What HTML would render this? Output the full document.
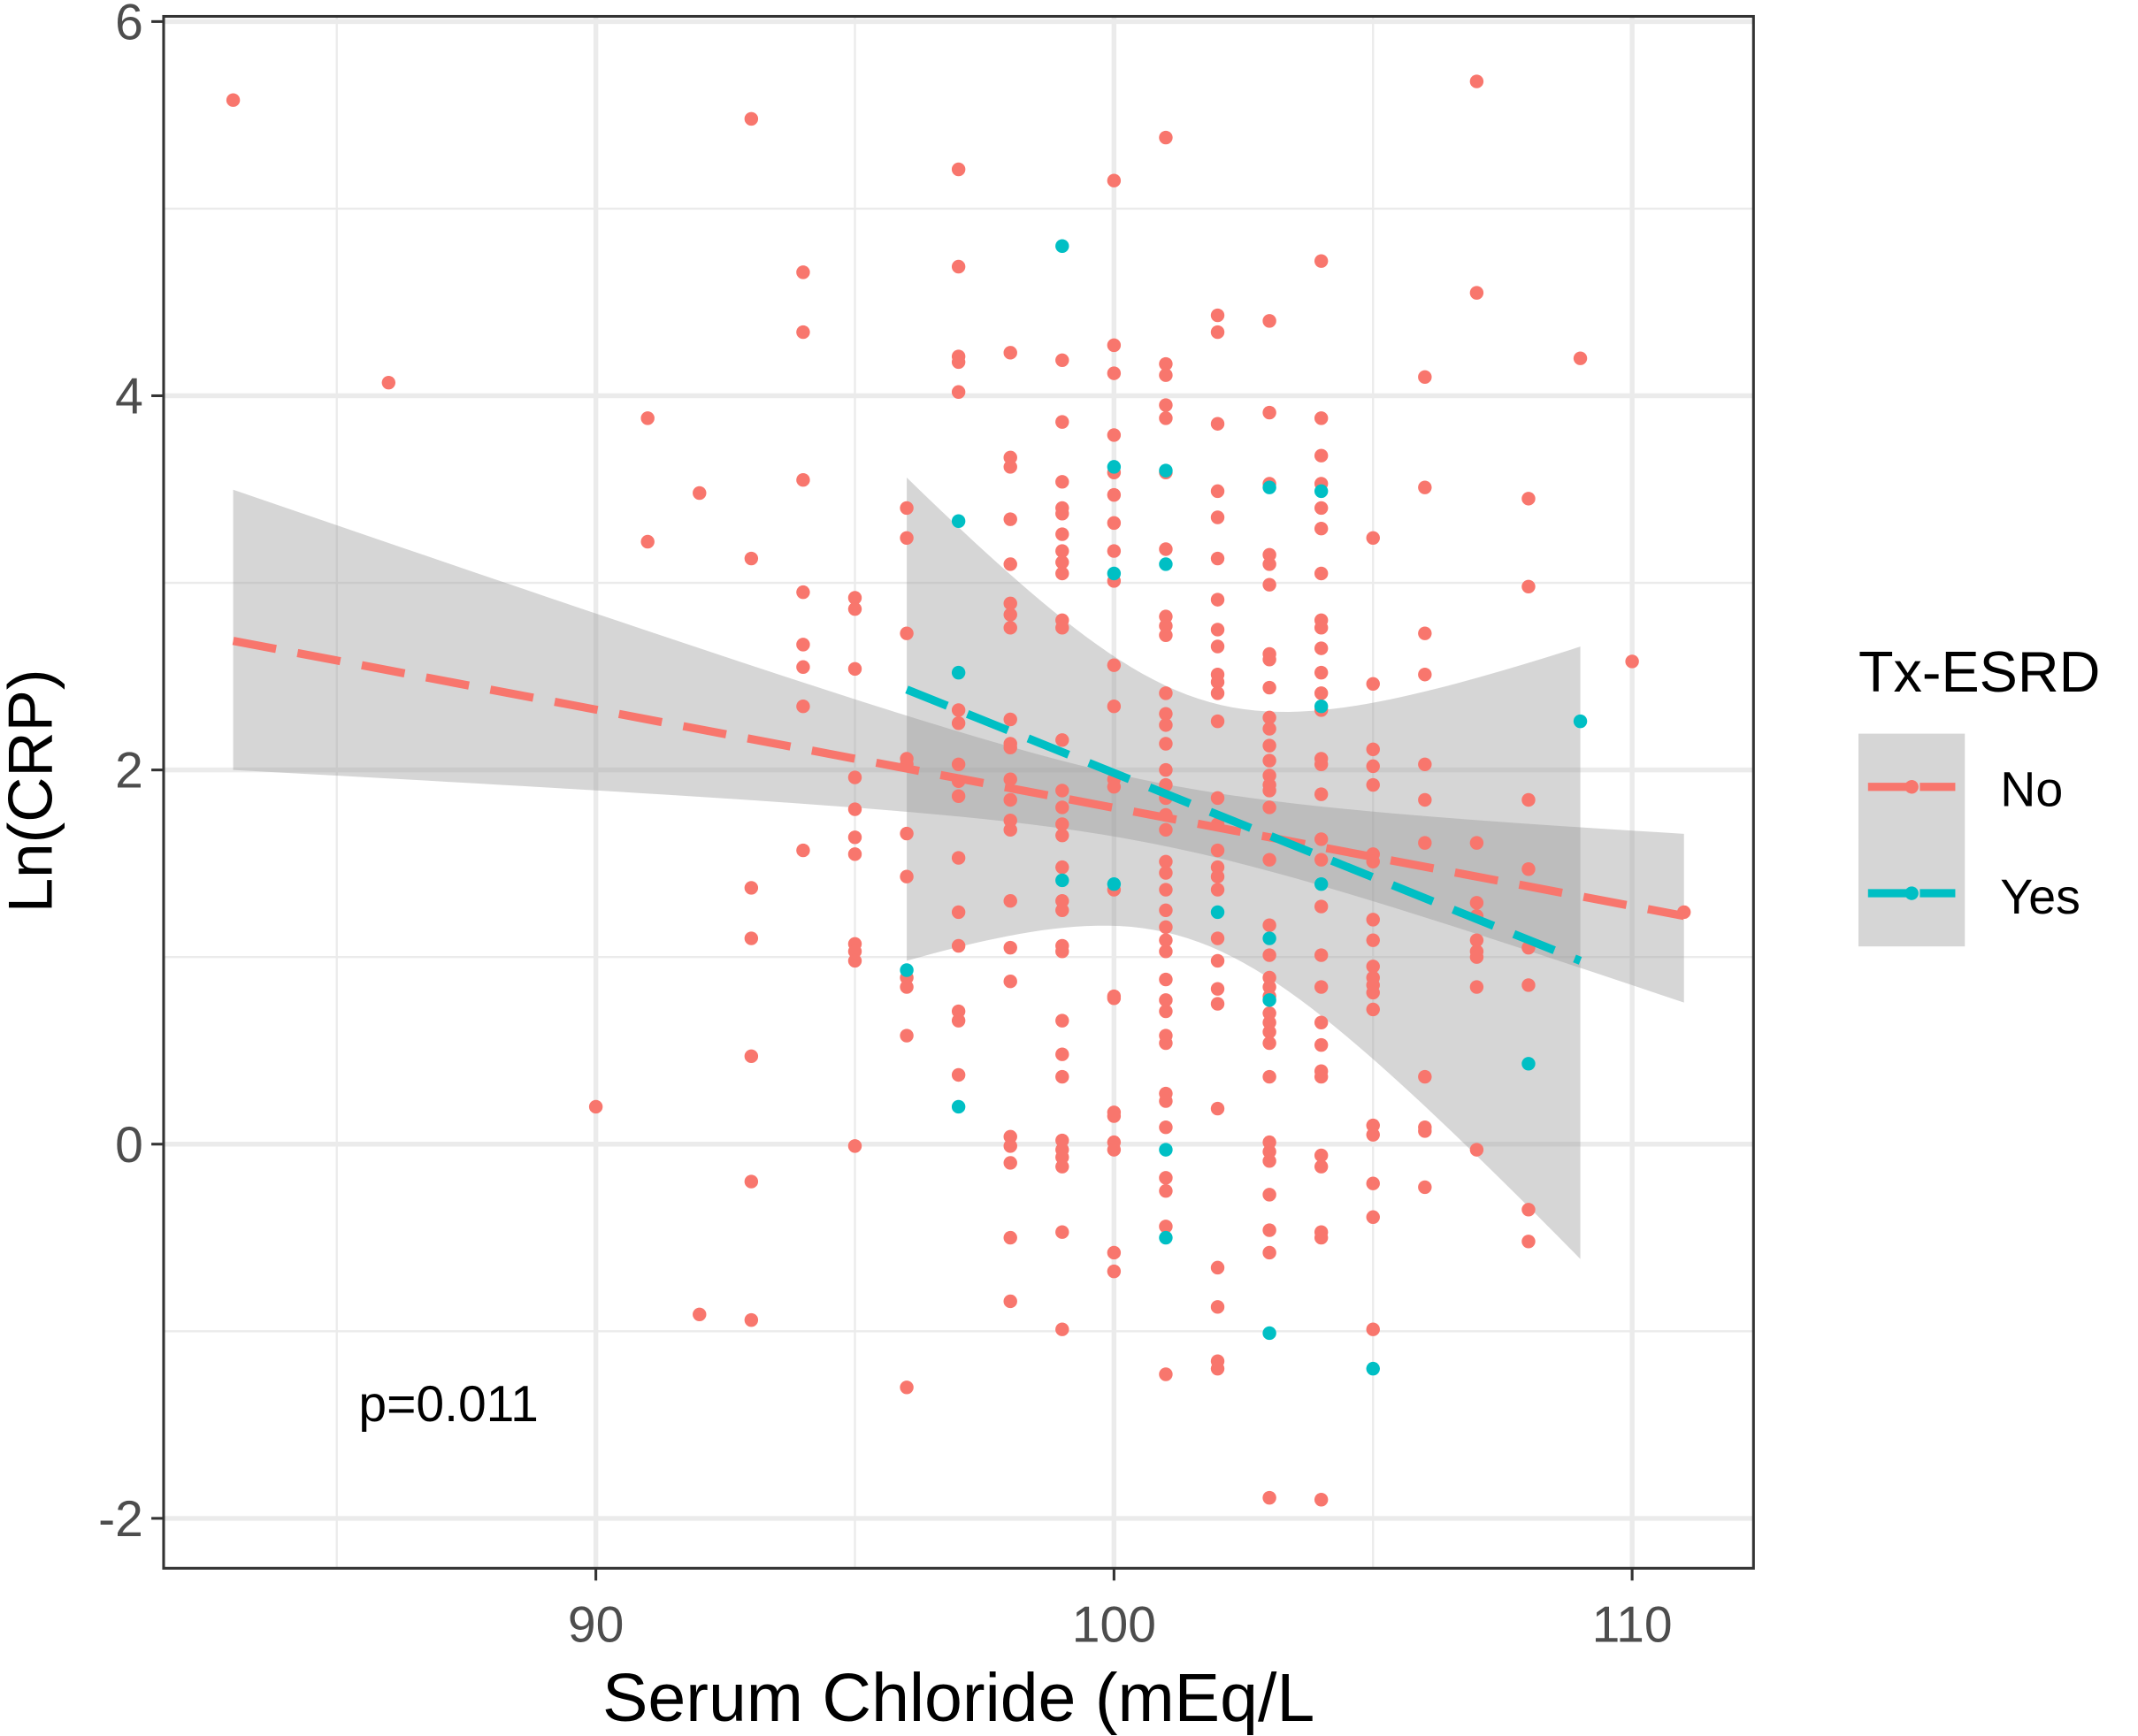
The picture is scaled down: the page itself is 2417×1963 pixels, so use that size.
<!DOCTYPE html>
<html><head><meta charset="utf-8"><style>
html,body{margin:0;padding:0;background:#fff}
svg{display:block}
text{font-family:"Liberation Sans",sans-serif}
</style></head><body>
<svg id="chart" width="2417" height="1963" viewBox="0 0 1568 1273" preserveAspectRatio="none" xmlns="http://www.w3.org/2000/svg">
<rect width="1568" height="1273" fill="#fff"/>
<g id="grid"></g>
<g id="bands"></g>
<g id="points"></g>
<g id="lines"></g>
<rect x="120" y="12" width="1166" height="1138" fill="none" stroke="#333" stroke-width="2"/>
<g id="axes"></g>
<text x="263" y="1042" font-size="37" fill="#000">p=0.011</text>
<text x="703" y="1262" font-size="50" text-anchor="middle" fill="#000">Serum Chloride (mEq/L</text>
<text transform="translate(38,580) rotate(-90)" font-size="46" text-anchor="middle" fill="#000">Ln(CRP)</text>
<g>
<text x="1363" y="507" font-size="42" fill="#000">Tx-ESRD</text>
<rect x="1363" y="538" width="78" height="78" fill="#999" fill-opacity="0.4"/>
<rect x="1363" y="616" width="78" height="78" fill="#999" fill-opacity="0.4"/>
<line x1="1370" y1="577" x2="1434" y2="577" stroke="#F8766D" stroke-width="6" stroke-dasharray="30 8"/>
<circle cx="1402" cy="577" r="5" fill="#F8766D"/>
<line x1="1370" y1="655" x2="1434" y2="655" stroke="#00BFC4" stroke-width="6" stroke-dasharray="30 8"/>
<circle cx="1402" cy="655" r="5" fill="#00BFC4"/>
<text x="1467" y="591" font-size="36" fill="#000">No</text>
<text x="1467" y="670" font-size="36" fill="#000">Yes</text>
</g>
</svg>
<script>
const xTicks=[90,100,110];
const xMinor=[85,95,105];
const yTicks=[-2,0,2,4,6];
const yMinor=[-1,1,3,5];
const noX=[83,86,90,91,91,92,92,93,93,93,93,93,93,93,94,94,94,94,94,94,94,94,95,95,95,95,95,95,95,95,95,95,95,96,96,96,96,96,96,96,96,96,96,96,97,97,97,97,97,97,97,97,97,97,97,97,97,97,97,97,98,98,98,98,98,98,98,98,98,98,98,98,98,98,98,98,98,98,98,98,98,98,98,99,99,99,99,99,99,99,99,99,99,99,99,99,99,99,99,99,99,99,99,99,99,99,99,99,99,99,99,99,99,100,100,100,100,100,100,100,100,100,100,100,100,100,100,100,100,100,100,100,100,100,100,101,101,101,101,101,101,101,101,101,101,101,101,101,101,101,101,101,101,101,101,101,101,101,101,101,101,101,101,101,101,101,101,101,101,101,101,101,101,102,102,102,102,102,102,102,102,102,102,102,102,102,102,102,102,102,102,102,102,102,102,102,102,102,102,102,102,103,103,103,103,103,103,103,103,103,103,103,103,103,103,103,103,103,103,103,103,103,103,103,103,103,103,103,103,103,103,103,103,103,103,103,104,104,104,104,104,104,104,104,104,104,104,104,104,104,104,104,104,104,104,104,104,104,104,104,104,104,104,104,104,104,105,105,105,105,105,105,105,105,105,105,105,105,105,105,105,105,105,105,105,106,106,106,106,106,106,106,106,106,106,106,107,107,107,107,107,107,107,107,107,107,108,108,108,108,108,108,108,108,109,110,111];
const noY=[5.58,4.07,0.20,3.88,3.22,3.48,-0.91,5.48,3.13,1.37,1.10,0.47,-0.20,-0.94,4.66,4.34,3.55,2.95,2.67,2.55,2.34,1.57,2.92,2.86,2.54,1.96,1.79,1.64,1.55,1.07,1.03,0.98,-0.01,3.40,3.24,2.73,2.06,2.03,1.66,1.43,0.89,0.84,0.58,-1.30,5.21,4.69,4.21,4.18,4.02,2.32,2.03,1.94,1.86,1.53,1.24,1.06,0.71,0.66,0.37,2.25,4.23,3.67,3.62,3.34,3.10,2.89,2.83,2.76,2.27,2.14,2.12,1.95,1.84,1.73,1.68,1.30,1.05,0.87,0.04,-0.01,-0.10,-0.50,-0.84,4.19,3.86,3.54,3.40,3.37,3.26,3.17,3.11,3.05,2.80,2.76,2.16,1.89,1.80,1.71,1.65,1.48,1.30,1.25,1.06,1.03,0.66,0.48,0.36,0.02,-0.03,-0.07,-0.12,-0.47,-0.99,5.15,4.27,4.12,3.79,3.59,3.47,3.32,3.17,3.01,2.56,2.34,1.95,1.91,1.36,0.79,0.78,0.17,0.15,0.01,-0.03,-0.58,-0.68,5.38,4.17,4.11,3.95,3.88,3.59,3.18,2.82,2.77,2.72,2.41,2.30,2.24,2.14,2.00,1.92,1.85,1.76,1.68,1.51,1.45,1.36,1.25,1.16,1.09,1.03,0.88,0.77,0.71,0.58,0.54,0.27,0.23,0.09,-0.18,-0.25,-0.44,-1.23,4.43,4.34,3.85,3.49,3.35,3.13,2.91,2.75,2.66,2.51,2.47,2.41,2.26,1.85,1.71,1.57,1.48,1.43,1.36,1.10,0.98,0.83,0.75,0.19,-0.66,-0.87,-1.16,-1.20,4.40,3.91,3.53,3.15,3.10,2.99,2.62,2.59,2.44,2.28,2.22,2.13,2.05,1.97,1.92,1.89,1.80,1.52,1.17,1.01,0.89,0.84,0.79,0.70,0.65,0.60,0.54,0.36,0.01,-0.04,-0.09,-0.27,-0.46,-0.58,-1.89,4.72,3.88,3.68,3.53,3.40,3.29,3.05,2.80,2.76,2.65,2.52,2.41,2.32,2.06,2.03,1.87,1.63,1.52,1.27,1.01,0.84,0.65,0.53,0.39,0.36,-0.06,-0.12,-0.47,-0.50,-1.90,3.24,2.46,2.11,2.02,1.92,1.55,1.51,1.20,1.09,0.95,0.89,0.85,0.81,0.72,0.10,0.05,-0.21,-0.39,-0.99,4.10,3.51,2.73,2.51,2.03,1.84,1.61,0.36,0.09,0.07,-0.23,5.68,4.55,1.61,1.29,1.22,1.09,1.03,1.00,0.84,-0.03,3.45,2.98,1.84,1.47,1.05,0.85,-0.35,-0.52,4.20,2.58,1.24];
const yesX=[96,97,97,97,99,99,100,100,100,101,101,101,101,102,103,103,103,103,104,104,104,105,108,109];
const yesY=[0.93,3.33,2.52,0.20,4.80,1.41,3.62,3.05,1.39,3.60,3.10,-0.03,-0.50,1.24,3.51,1.10,0.77,-1.01,3.49,2.34,1.39,-1.20,0.43,2.26];
const fitNoX=[83,111], fitNoY=[2.69,1.22];
const fitYesX=[96,109], fitYesY=[2.43,0.98];

const NS='http://www.w3.org/2000/svg';
const sx=v=>817+(v-100)*38;
const sy=v=>839-v*137.2;
function mk(tag,attrs,parent){const e=document.createElementNS(NS,tag);for(const k in attrs)e.setAttribute(k,attrs[k]);parent.appendChild(e);return e;}
const grid=document.getElementById('grid');
xMinor.forEach(v=>{const l=mk('line',{x1:sx(v),x2:sx(v),y1:12,y2:1150,stroke:'#ebebeb','stroke-width':1.5},grid);

});
yMinor.forEach(v=>{const l=mk('line',{x1:120,x2:1286,y1:sy(v),y2:sy(v),stroke:'#ebebeb','stroke-width':1.5},grid);

});
xTicks.forEach(v=>{const l=mk('line',{x1:sx(v),x2:sx(v),y1:12,y2:1150,stroke:'#ebebeb','stroke-width':3.5},grid);

});
yTicks.forEach(v=>{const l=mk('line',{x1:120,x2:1286,y1:sy(v),y2:sy(v),stroke:'#ebebeb','stroke-width':3.5},grid);

});

const axes=document.getElementById('axes');
xTicks.forEach(v=>{const t=mk('line',{x1:sx(v),x2:sx(v),y1:1150,y2:1159,stroke:'#333','stroke-width':2},axes);


const tx=mk('text',{x:sx(v),y:1204,'font-size':37,fill:'#4d4d4d','text-anchor':'middle'},axes);tx.textContent=v;

});
yTicks.forEach(v=>{const t=mk('line',{x1:111,x2:120,y1:sy(v),y2:sy(v),stroke:'#333','stroke-width':2},axes);


const tx=mk('text',{x:105,y:sy(v)+13,'font-size':37,fill:'#4d4d4d','text-anchor':'end'},axes);tx.textContent=v;

});

const bands=document.getElementById('bands');
function fit(xs,ys){const n=xs.length,mx=xs.reduce((a,b)=>a+b)/n,my=ys.reduce((a,b)=>a+b)/n;let sxx=0,sxy=0;for(let i=0;i<n;i++){sxx+=(xs[i]-mx)**2;sxy+=(xs[i]-mx)*(ys[i]-my);}const b=sxy/sxx,a=my-b*mx;let sse=0;for(let i=0;i<n;i++)sse+=(ys[i]-a-b*xs[i])**2;return{a,b,mx,sxx,n,s:Math.sqrt(sse/(n-2))};}
function band(xs,ys,x0,x1,t,name){const f=fit(xs,ys);const up=[],lo=[];for(let k=0;k<=60;k++){const x=x0+(x1-x0)*k/60;const y=f.a+f.b*x;const se=f.s*Math.sqrt(1/f.n+(x-f.mx)**2/f.sxx)*t;up.push(sx(x)+','+sy(y+se));lo.unshift(sx(x)+','+sy(y-se));}
const p=mk('polygon',{points:up.concat(lo).join(' '),fill:'#999','fill-opacity':0.4},bands);

}
band(noX,noY,83,111,1.97,'confidence-band-no');
band(yesX,yesY,96,109,1.95,'confidence-band-yes');

const pts=document.getElementById('points');
noX.forEach((x,i)=>{const c=mk('circle',{cx:sx(x),cy:sy(noY[i]),r:5,fill:'#F8766D'},pts);

});
yesX.forEach((x,i)=>{const c=mk('circle',{cx:sx(x),cy:sy(yesY[i]),r:5,fill:'#00BFC4'},pts);

});

const lines=document.getElementById('lines');
const ln=mk('line',{x1:sx(fitNoX[0]),y1:sy(fitNoY[0]),x2:sx(fitNoX[1]),y2:sy(fitNoY[1]),stroke:'#F8766D','stroke-width':6,'stroke-dasharray':'32 16'},lines);


const ly=mk('line',{x1:sx(fitYesX[0]),y1:sy(fitYesY[0]),x2:sx(fitYesX[1]),y2:sy(fitYesY[1]),stroke:'#00BFC4','stroke-width':6,'stroke-dasharray':'32 16'},lines);


</script>
</body></html>
